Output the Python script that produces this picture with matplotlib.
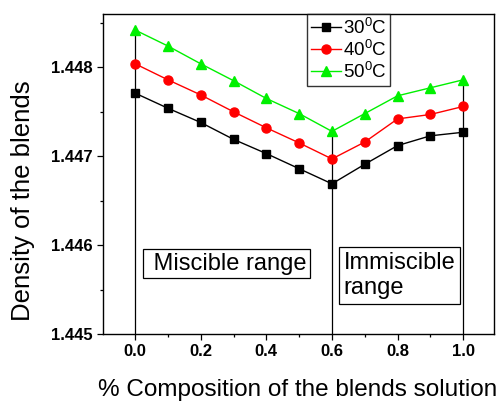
import matplotlib
matplotlib.use("Agg")
import matplotlib.pyplot as plt
from matplotlib.ticker import MultipleLocator

plt.rcParams['font.family'] = ['Liberation Sans', 'DejaVu Sans']
plt.rcParams['mathtext.fontset'] = 'custom'
plt.rcParams['mathtext.rm'] = 'Liberation Sans'
plt.rcParams['mathtext.it'] = 'Liberation Sans'

composition = [0.0, 0.1, 0.2, 0.3, 0.4, 0.5, 0.6, 0.7, 0.8, 0.9, 1.0]
density_30 = [1.44771, 1.44754, 1.44738, 1.44719, 1.44703, 1.44686, 1.44669, 1.44691, 1.44712, 1.44723, 1.44727]
density_40 = [1.44804, 1.44786, 1.44769, 1.44750, 1.44732, 1.44715, 1.44697, 1.44716, 1.44742, 1.44747, 1.44756]
density_50 = [1.44842, 1.44824, 1.44804, 1.44785, 1.44765, 1.44748, 1.44728, 1.44748, 1.44768, 1.44777, 1.44786]
labels = ["30$^0$C", "40$^0$C", "50$^0$C"]
xticks = [0.0, 0.2, 0.4, 0.6, 0.8, 1.0]
yticks = [1.445, 1.446, 1.447, 1.448]
divider_x = [0.0, 0.6, 1.0]

fig = plt.figure(figsize=(5.01, 4.01), dpi=100)
ax = fig.add_axes([0.2056, 0.167, 0.7804, 0.798])

ymin, ymax = 1.445, 1.4486
# vertical divider lines from bottom to top series
for xv in divider_x:
    i = composition.index(xv)
    ax.plot([xv, xv], [ymin, density_50[i]], color='black', lw=0.9, zorder=1)

ax.plot(composition, density_30, color='black', marker='s', ms=5.5, lw=1, label=labels[0], zorder=3)
ax.plot(composition, density_40, color='red', marker='o', ms=6.5, lw=1, label=labels[1], zorder=3)
ax.plot(composition, density_50, color='#00f000', marker='^', ms=7.5, lw=1, label=labels[2], zorder=3)

ax.set_xlim(-0.098, 1.094)
ax.set_ylim(ymin, ymax)
ax.set_xticks(xticks)
ax.set_yticks(yticks)
ax.xaxis.set_minor_locator(MultipleLocator(0.1))
ax.yaxis.set_minor_locator(MultipleLocator(0.0005))
ax.set_xticklabels([f"{v:.1f}" for v in xticks], fontweight='bold', fontsize=12)
ax.set_yticklabels([f"{v:.3f}" for v in yticks], fontweight='bold', fontsize=12)
ax.tick_params(which='major', direction='out', length=4, width=0.9)
ax.tick_params(which='minor', direction='out', length=2.5, width=0.9)
for s in ax.spines.values():
    s.set_linewidth(1)

fig.text(0.045, 0.5, "Density of the blends", rotation=90, fontsize=18.5,
         ha='center', va='center')
fig.text(0.594, 0.027, "% Composition of the blends solution", fontsize=17.5,
         ha='center', va='center')

ax.text(0.035, 1.44579, " Miscible range", fontsize=17, ha='left', va='center',
        bbox=dict(boxstyle='square,pad=0.15', fc='white', ec='black', lw=0.9))
ax.text(0.635, 1.44566, "Immiscible\nrange", fontsize=17, ha='left', va='center',
        linespacing=1.2,
        bbox=dict(boxstyle='square,pad=0.2', fc='white', ec='black', lw=0.9))

leg = ax.legend(loc='upper left', bbox_to_anchor=(0.522, 1.0), fontsize=13.5,
                frameon=True, fancybox=False, edgecolor='black', handlelength=1.6,
                handletextpad=0.1, borderpad=0.2, labelspacing=0.1, borderaxespad=0)
leg.get_frame().set_linewidth(1)

fig.savefig("out.png", dpi=100)
